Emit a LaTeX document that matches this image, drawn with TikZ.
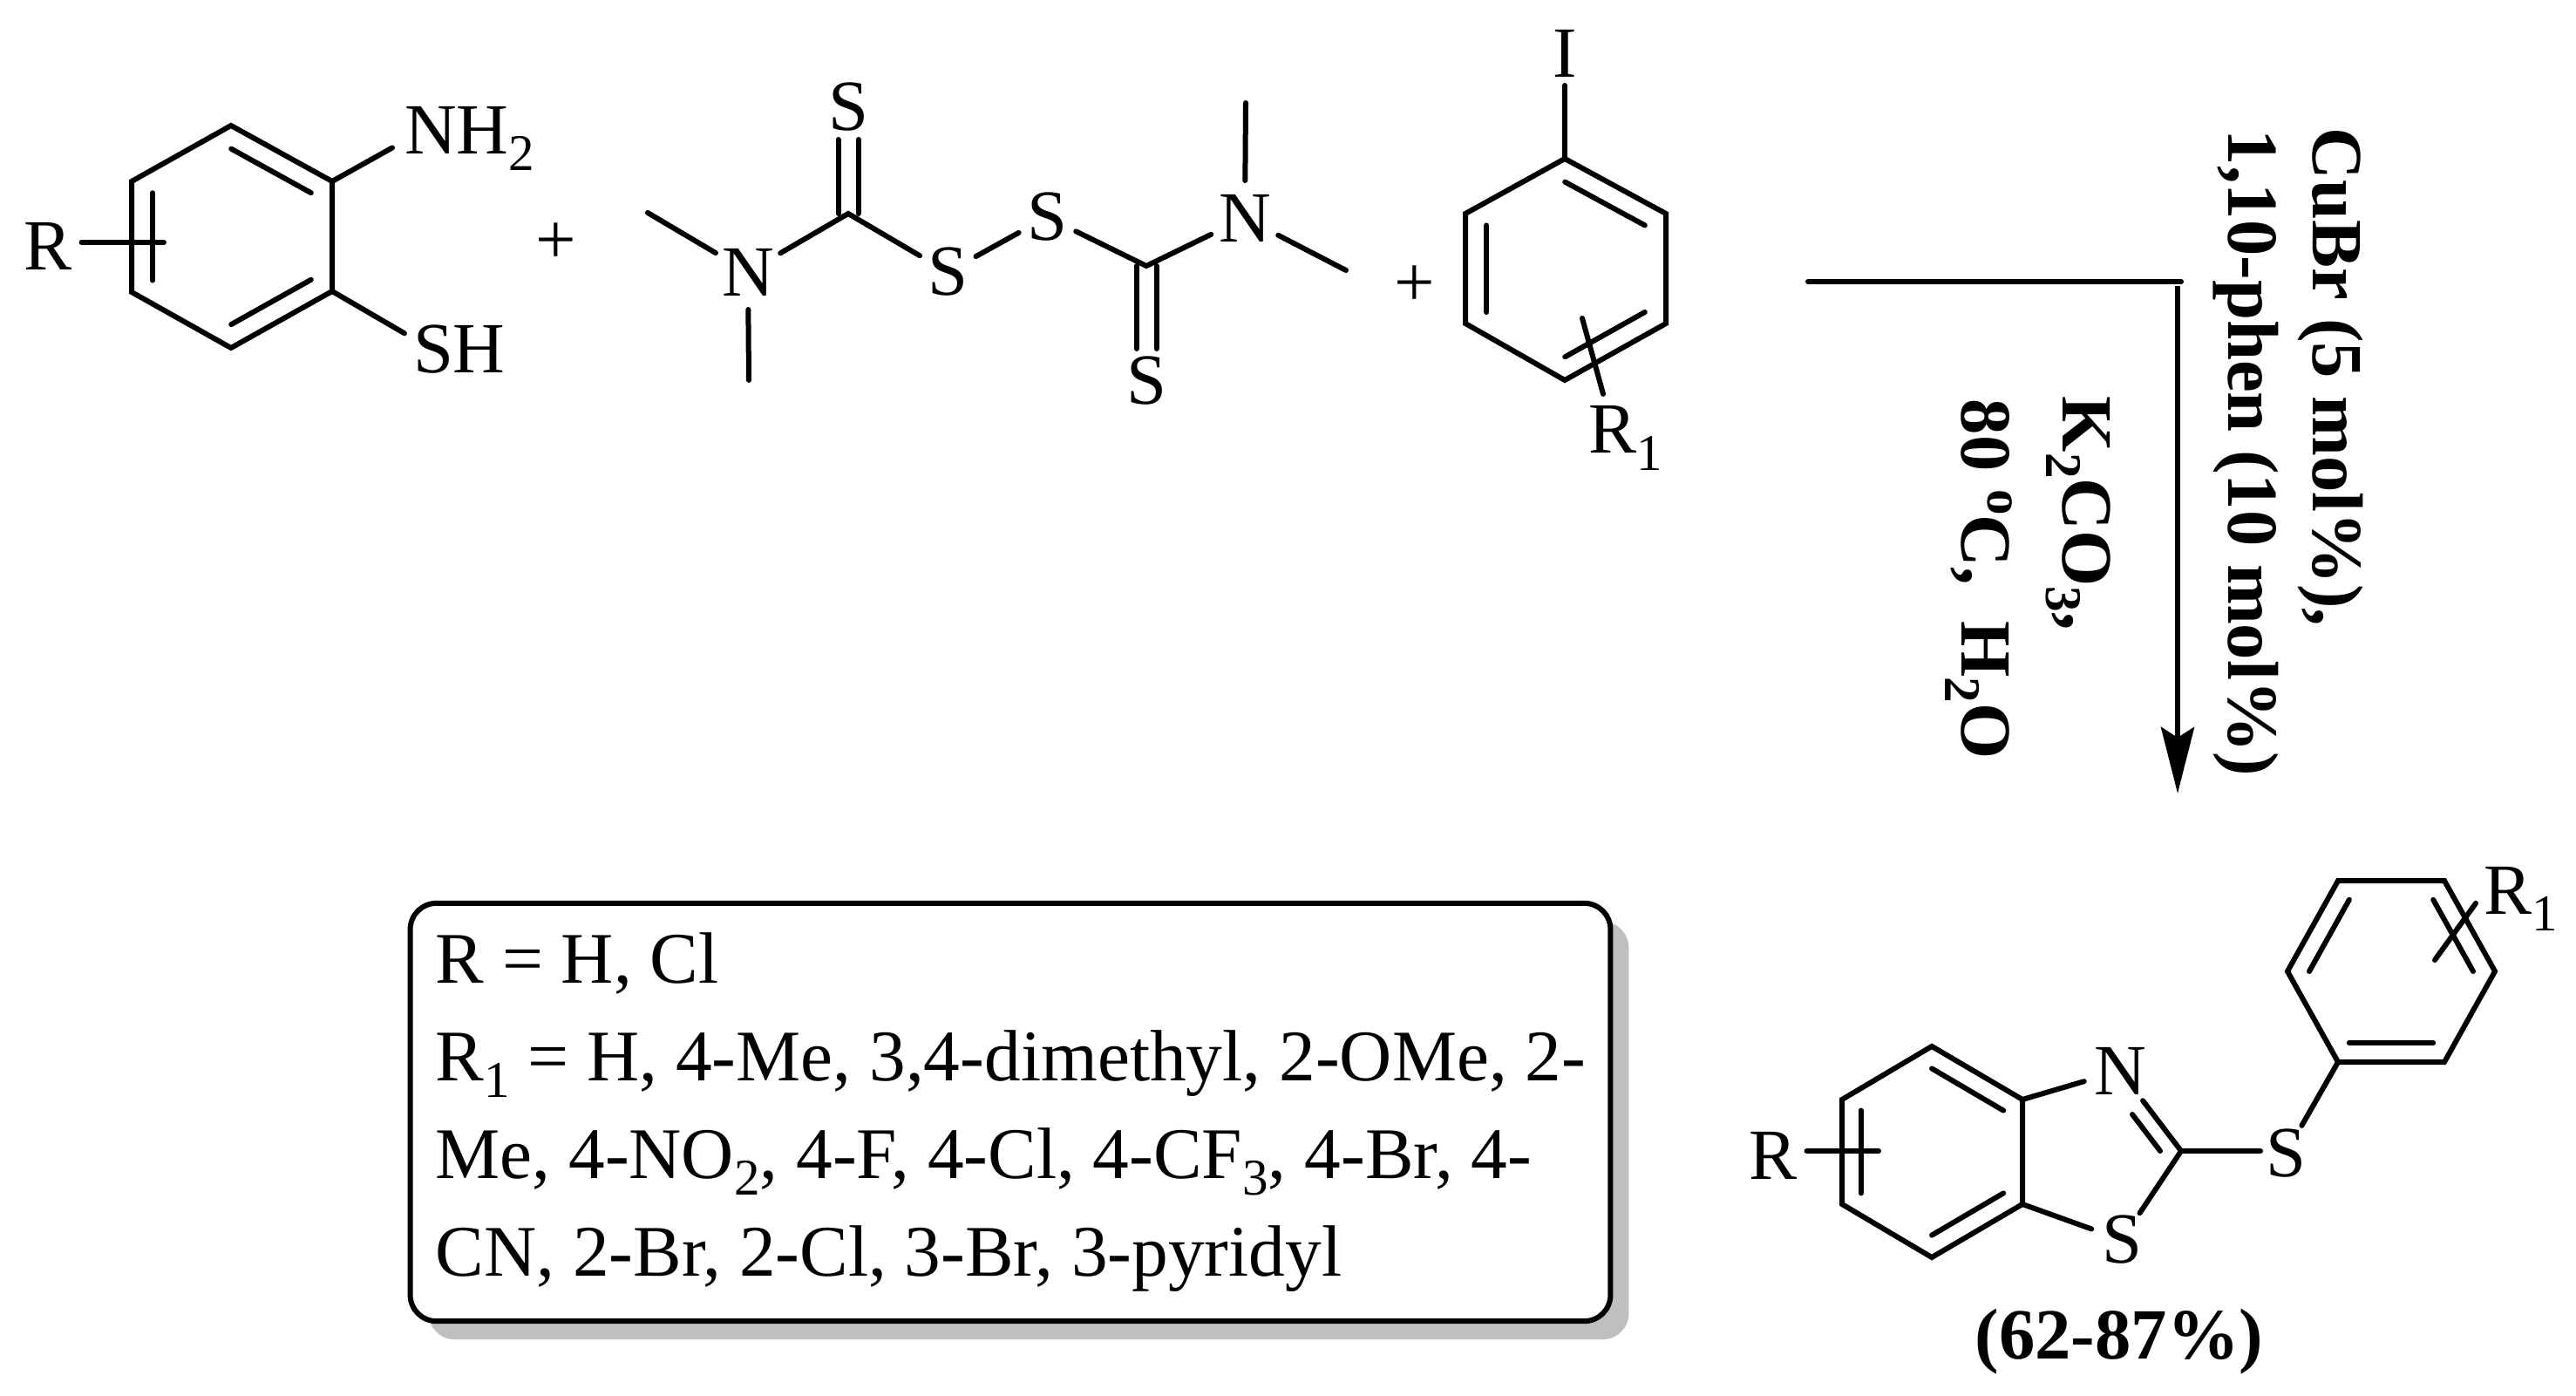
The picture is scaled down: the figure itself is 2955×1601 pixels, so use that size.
\documentclass[tikz,border=0pt]{standalone}
\usepackage{fontspec}
\setmainfont{Liberation Serif}
\usetikzlibrary{calc, arrows.meta, shadows}

\newcommand{\chemfont}{\fontsize{23.5}{31.9}\selectfont}
\newcommand{\notefont}{\fontsize{23.7}{31.9}\selectfont}
\newcommand{\sbs}[1]{\raisebox{-0.23em}{\fontsize{16.8}{16.8}\selectfont #1}}
\newcommand{\sps}[1]{\raisebox{0.37em}{\fontsize{16.8}{16.8}\selectfont #1}}

\tikzset{
	bond/.style = {line width = 0.06cm, line cap = round},
	txt/.style = {inner sep = 0pt, outer sep = 0pt, font = \chemfont},
	atom/.style = {txt, circle, minimum size = 0.74cm},
	atomn/.style = {txt, circle, minimum size = 0.86cm},
	cond/.style = {txt, rotate = -90, anchor = base west, font = \chemfont\bfseries},
	notebox/.style = {txt, draw, line width = 0.06cm, fill = white, rounded corners = 0.3cm, minimum width = 13.76cm, minimum height = 4.79cm, drop shadow = {shadow xshift = 0.21cm, shadow yshift = -0.21cm, fill = black!25, opacity = 1}},
	notetext/.style = {txt, font = \notefont, align = left, anchor = west}
}

\begin{document}
\begin{tikzpicture}[x = 0.01cm, y = -0.01cm]
	\useasboundingbox (0, 0) rectangle (2955, 1601);

	% rings
	\coordinate (a1) at (265, 144);
	\coordinate (a2) at (381, 208);
	\coordinate (a3) at (381, 334);
	\coordinate (a4) at (265, 399);
	\coordinate (a5) at (151, 335);
	\coordinate (a6) at (151, 208);
	\coordinate (ac) at (266, 271);

	\coordinate (b1) at (1795, 182);
	\coordinate (b2) at (1911, 245);
	\coordinate (b3) at (1911, 371);
	\coordinate (b4) at (1795, 436);
	\coordinate (b5) at (1681, 371);
	\coordinate (b6) at (1681, 245);
	\coordinate (bc) at (1796, 309);

	\coordinate (c1) at (2216, 1200);
	\coordinate (c2) at (2320, 1261);
	\coordinate (c3) at (2320, 1381);
	\coordinate (c4) at (2216, 1442);
	\coordinate (c5) at (2113, 1381);
	\coordinate (c6) at (2113, 1261);
	\coordinate (cc) at (2216, 1321);

	\coordinate (d1) at (2682, 1010);
	\coordinate (d2) at (2804, 1010);
	\coordinate (d3) at (2862, 1114);
	\coordinate (d4) at (2804, 1218);
	\coordinate (d5) at (2682, 1218);
	\coordinate (d6) at (2624, 1114);
	\coordinate (dc) at (2743, 1114);

	\foreach \r in {a, b, c, d}
		\draw[bond] (\r1) -- (\r2) -- (\r3) -- (\r4) -- (\r5) -- (\r6) -- cycle;
	\foreach \r in {a, b, c}
		\foreach \p/\q in {1/2, 3/4, 5/6}
			\draw[bond] ($(\r\p)!0.21!(\r c)$) -- ($(\r\q)!0.21!(\r c)$);
	\foreach \p/\q in {6/1, 2/3, 4/5}
		\draw[bond] ($(d\p)!0.21!(dc)$) -- ($(d\q)!0.21!(dc)$);

	% aminothiophenol
	\node[atom] (ra) at (55, 282){R};
	\coordinate (rae) at (188, 278);
	\draw[bond] (ra.east |- rae) -- (rae);
	\node[txt, anchor = base west] (nh) at (464, 177){NH\sbs{2}};
	\node[txt, anchor = base west] (sh) at (474, 428){SH};
	\draw[bond] (a2) -- ([shift = {(-14, 10)}]nh.west);
	\draw[bond] (a3) -- ([shift = {(-10, 9)}]sh.north west);
	\node[txt] (plusa) at (638, 279){+};

	% disulfide
	\node[atomn] (na) at (858, 312){N};
	\node[atom] (sa) at (973, 123){S};
	\node[atom] (sb) at (1087, 312){S};
	\node[atom] (sc) at (1201, 249){S};
	\node[atom] (sd) at (1315, 437){S};
	\node[atomn] (nb) at (1428, 250){N};
	\coordinate (ca) at (973, 245);
	\coordinate (cb) at (1315, 305);
	\coordinate (ma) at (743, 244);
	\coordinate (mb) at (859, 436);
	\coordinate (mc) at (1429, 118);
	\coordinate (md) at (1544, 310);
	\draw[bond] (ma) -- (na);
	\draw[bond] (mb) -- (na);
	\draw[bond] (na) -- (ca) -- (sb);
	\draw[bond] (sb) -- (sc);
	\draw[bond] (sc) -- (cb) -- (nb);
	\draw[bond] (mc) -- (nb);
	\draw[bond] (md) -- (nb);
	\draw[bond] ([xshift = -0.115cm]ca) -- ([xshift = -0.115cm]sa.south);
	\draw[bond] ([xshift = 0.115cm]ca) -- ([xshift = 0.115cm]sa.south);
	\draw[bond] ([xshift = -0.115cm]cb) -- ([xshift = -0.115cm]sd.north);
	\draw[bond] ([xshift = 0.115cm]cb) -- ([xshift = 0.115cm]sd.north);
	\node[txt] (plusb) at (1623, 328){+};

	% iodoarene
	\node[atom] (ia) at (1795, 61){I};
	\draw[bond] (ia) -- (b1);
	\node[txt, anchor = base west] (rb) at (1822, 520){R\sbs{1}};
	\coordinate (rbe) at (1815, 365);
	\draw[bond] (rbe) -- ([shift = {(17, -14)}]rb.north west);

	% arrow
	\coordinate (la) at (2074, 323);
	\coordinate (lb) at (2502, 323);
	\coordinate (ta) at (2498, 328);
	\coordinate (tb) at (2498, 910);
	\draw[bond] (la) -- (lb);
	\draw[line width = 0.06cm, -{Stealth[length = 0.76cm, width = 0.38cm, inset = 0.12cm]}] (ta) -- (tb);
	\node[cond] (cubr) at (2653, 147){CuBr (5 mol\%),};
	\node[cond] (phen) at (2556, 149){1,10-phen (10 mol\%)};
	\node[cond] (kcarb) at (2366, 455){K\sbs{2}CO\sbs{3},};
	\node[cond] (heat) at (2250, 458){80 \sps{o}C,\ \ H\sbs{2}O};

	% conditions box
	\node[notebox] (note) at (1159, 1275.5){};
	\node[notetext] (notes) at ([xshift = 0.29cm]note.west){R = H, Cl\\
		R\sbs{1} = H, 4-Me, 3,4-dimethyl, 2-OMe, 2-\\
		Me, 4-NO\sbs{2}, 4-F, 4-Cl, 4-CF\sbs{3}, 4-Br, 4-\\
		CN, 2-Br, 2-Cl, 3-Br, 3-pyridyl};

	% product
	\node[atom] (rc) at (2034, 1325){R};
	\coordinate (rce) at (2155, 1320);
	\draw[bond] (rc.east |- rce) -- (rce);
	\node[atomn] (pn) at (2432, 1228){N};
	\node[atom] (ps) at (2434, 1422){S};
	\node[atom] (pe) at (2622, 1323){S};
	\coordinate (pc) at (2502, 1320);
	\coordinate (pia) at (2446, 1278);
	\coordinate (pib) at (2478, 1320);
	\draw[bond] (c2) -- (pn);
	\draw[bond] (c3) -- (ps);
	\draw[bond] (pn) -- (pc) -- (ps);
	\draw[bond] (pia) -- (pib);
	\draw[bond, shorten > = -0.08cm] (pc) -- (pe.west |- pc);
	\draw[bond] (pe) -- (d5);
	\node[txt, anchor = base west] (rd) at (2849, 1048){R\sbs{1}};
	\coordinate (rde) at (2793, 1101);
	\draw[bond] (rde) -- ([shift = {(-9, 42)}]rd.north west);
	\node[txt, anchor = base, font = \chemfont\bfseries] (yield) at (2431, 1558){(62-87\%)};
\end{tikzpicture}
\end{document}
